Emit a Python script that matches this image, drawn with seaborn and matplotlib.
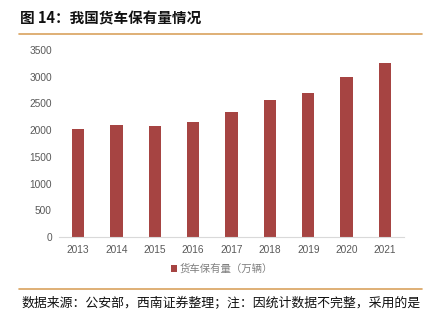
import matplotlib
matplotlib.use("Agg")
import matplotlib.pyplot as plt
import seaborn as sns
import pandas as pd
from matplotlib.patches import Patch
from matplotlib.lines import Line2D

years = ["2013", "2014", "2015", "2016", "2017", "2018", "2019", "2020", "2021"]
trucks = [2020, 2100, 2075, 2150, 2340, 2570, 2700, 3000, 3250]
series_name = "货车保有量（万辆）"
title_text = "图 14：我国货车保有量情况"
note_text = "数据来源：公安部，西南证券整理；注：因统计数据不完整，采用的是"
yticks = [0, 500, 1000, 1500, 2000, 2500, 3000, 3500]

sns.set_theme(style="white")
plt.rcParams['font.family'] = ['Noto Sans CJK SC', 'DejaVu Sans']

bar_color = "#A64442"
gray = "#595959"
orange = "#D9A25E"

df = pd.DataFrame({"year": years, "value": trucks})

fig = plt.figure(figsize=(4.28, 3.22), dpi=100)
ax = fig.add_axes([58.8 / 428, (322 - 237) / 322, 345.4 / 428, 187 / 322])
sns.barplot(data=df, x="year", y="value", color=bar_color, width=0.32,
            saturation=1, ax=ax, edgecolor="none")
ax.set_xlim(-0.5, len(years) - 0.5)
ax.set_ylim(0, 3500)
ax.set_yticks(yticks)
ax.set_yticklabels([str(v) for v in yticks], family=['Liberation Sans', 'DejaVu Sans'])
ax.set_xticks(range(len(years)))
ax.set_xticklabels(years, family=['Liberation Sans', 'DejaVu Sans'])
ax.set_xlabel("")
ax.set_ylabel("")
for s in ["top", "right", "left"]:
    ax.spines[s].set_visible(False)
ax.spines["bottom"].set_color("#D9D9D9")
ax.spines["bottom"].set_linewidth(0.8)
ax.tick_params(axis="y", length=0, labelsize=7.3, colors=gray, pad=5)
ax.tick_params(axis="x", length=0, labelsize=7.3, colors=gray, pad=6)
# minor ticks between categories
ax.set_xticks([i + 0.5 for i in range(-1, len(years))], minor=True)
ax.tick_params(axis="x", which="minor", length=3, color="#D9D9D9", width=0.8)
ax.grid(False)

# legend
handles = [Patch(facecolor=bar_color, edgecolor="none", label=series_name)]
fig.legend(handles=handles, loc="center", bbox_to_anchor=(222 / 428, 1 - 269 / 322),
           frameon=False, fontsize=7.5, handlelength=0.6, handleheight=0.6,
           handletextpad=0.2, labelcolor="#7F7F7F")

# title and decorative rules
fig.text(20 / 428, 1 - 19 / 322, title_text, fontsize=10.5, fontweight="bold",
         va="center", ha="left", color="#111111")
fig.add_artist(Line2D([19 / 428, 422 / 428], [1 - 34 / 322, 1 - 34 / 322],
                      color=orange, lw=1.2))
fig.add_artist(Line2D([19 / 428, 422 / 428], [1 - 288.5 / 322, 1 - 288.5 / 322],
                      color=orange, lw=1.2))
fig.text(21 / 428, 1 - 304 / 322, note_text, fontsize=9.3, style="italic",
         va="center", ha="left", color="#111111")

fig.savefig("out.png", dpi=100)
